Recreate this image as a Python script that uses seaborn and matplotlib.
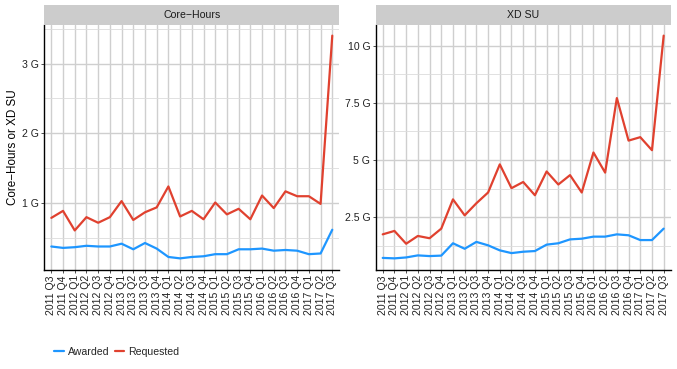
import matplotlib
matplotlib.use("Agg")
import matplotlib.pyplot as plt
import matplotlib.ticker as mticker
from matplotlib.lines import Line2D
import seaborn as sns
import pandas as pd

quarters = ["2011 Q3", "2011 Q4", "2012 Q1", "2012 Q2", "2012 Q3", "2012 Q4",
            "2013 Q1", "2013 Q2", "2013 Q3", "2013 Q4", "2014 Q1", "2014 Q2",
            "2014 Q3", "2014 Q4", "2015 Q1", "2015 Q2", "2015 Q3", "2015 Q4",
            "2016 Q1", "2016 Q2", "2016 Q3", "2016 Q4", "2017 Q1", "2017 Q2",
            "2017 Q3"]

# values in billions (G)
core_awarded = [0.38, 0.36, 0.37, 0.39, 0.38, 0.38, 0.42, 0.34, 0.43, 0.35,
                0.23, 0.21, 0.23, 0.24, 0.27, 0.27, 0.34, 0.34, 0.35, 0.32,
                0.33, 0.32, 0.27, 0.28, 0.62]
core_requested = [0.79, 0.89, 0.61, 0.80, 0.72, 0.80, 1.03, 0.76, 0.87, 0.94,
                  1.24, 0.81, 0.89, 0.77, 1.01, 0.84, 0.92, 0.77, 1.11, 0.93,
                  1.17, 1.10, 1.10, 0.99, 3.40]
xdsu_awarded = [0.72, 0.70, 0.74, 0.83, 0.80, 0.82, 1.36, 1.12, 1.42, 1.27,
                1.05, 0.93, 0.99, 1.02, 1.30, 1.36, 1.53, 1.56, 1.65, 1.65,
                1.75, 1.71, 1.50, 1.50, 2.00]
xdsu_requested = [1.75, 1.90, 1.34, 1.68, 1.58, 2.00, 3.28, 2.58, 3.11, 3.58,
                  4.81, 3.77, 4.04, 3.46, 4.50, 3.93, 4.34, 3.58, 5.33, 4.45,
                  7.71, 5.85, 6.00, 5.43, 10.44]

panels = ["Core\u2212Hours", "XD SU"]
series = ["Awarded", "Requested"]
colors = {"Awarded": "#1e96ff", "Requested": "#e0412f"}

def long_df(awarded, requested):
    return pd.DataFrame({
        "quarter": quarters * 2,
        "value": awarded + requested,
        "type": ["Awarded"] * len(quarters) + ["Requested"] * len(quarters),
    })

data = {panels[0]: long_df(core_awarded, core_requested),
        panels[1]: long_df(xdsu_awarded, xdsu_requested)}

sns.set_theme(style="white")
plt.rcParams["font.family"] = ["Liberation Sans", "DejaVu Sans"]

W, H = 677, 369
fig = plt.figure(figsize=(W / 100, H / 100), dpi=100)

panel_left = [44.3, 375.7]
panel_w = 295.0
panel_top = 24.5
panel_bot = 269.5
strip_top = 5.0

major = {panels[0]: [1, 2, 3], panels[1]: [2.5, 5, 7.5, 10]}
minor = {panels[0]: [0.5, 1.5, 2.5, 3.5], panels[1]: [1.25, 3.75, 6.25, 8.75]}

fs = 7.6
axes = []
for i, name in enumerate(panels):
    x0 = panel_left[i] / W
    ax = fig.add_axes([x0, (H - panel_bot) / H, panel_w / W, (panel_bot - panel_top) / H])
    df = data[name]
    sns.lineplot(data=df, x="quarter", y="value", hue="type", palette=colors,
                 hue_order=series, sort=False, legend=False, ax=ax, linewidth=1.6)
    ax.set_xlim(-0.6, len(quarters) - 1 + 0.6)
    ax.margins(y=0.05)
    ax.set_xticks(range(len(quarters)))
    ax.set_xticklabels(quarters, rotation=90, fontsize=fs, color="#222222")
    ax.set_yticks(major[name])
    ax.set_yticks(minor[name], minor=True)
    ax.yaxis.set_major_formatter(mticker.FuncFormatter(lambda v, p: f"{v:g} G"))
    ax.tick_params(axis="y", which="major", labelsize=fs, labelcolor="#222222",
                   length=2.5, width=0.6, color="#333333", pad=1.5, left=True)
    ax.tick_params(axis="y", which="minor", length=0, left=False)
    ax.tick_params(axis="x", length=2.5, width=0.6, color="#333333", pad=1.5, bottom=True)
    ax.grid(True, which="major", axis="both", color="#cfcfcf", linewidth=1.0)
    ax.grid(True, which="minor", axis="y", color="#dcdcdc", linewidth=0.6)
    ax.set_axisbelow(True)
    for s in ["top", "right"]:
        ax.spines[s].set_visible(False)
    for s in ["left", "bottom"]:
        ax.spines[s].set_color("black")
        ax.spines[s].set_linewidth(1.0)
    ax.set_xlabel("")
    ax.set_ylabel("")
    # strip
    sax = fig.add_axes([x0, (H - panel_top) / H, panel_w / W, (panel_top - strip_top) / H])
    sax.set_facecolor("#cccccc")
    sax.set_xticks([])
    sax.set_yticks([])
    for s in sax.spines.values():
        s.set_visible(False)
    sax.text(0.5, 0.5, name, ha="center", va="center", fontsize=fs, color="#1a1a1a",
             transform=sax.transAxes)
    axes.append(ax)

fig.text(13 / W, (H - 147) / H, "Core\u2212Hours or XD SU", rotation=90,
         ha="center", va="center", fontsize=8.4, color="black")

handles = [Line2D([0], [0], color=colors[s], lw=1.6) for s in series]
fig.legend(handles, series, loc="center left", bbox_to_anchor=(54 / W, (H - 352) / H),
           ncol=2, frameon=False, fontsize=fs, handlelength=0.9, handletextpad=0.4,
           columnspacing=0.5, borderaxespad=0, borderpad=0)

fig.savefig("out.png", dpi=100, facecolor="white")
